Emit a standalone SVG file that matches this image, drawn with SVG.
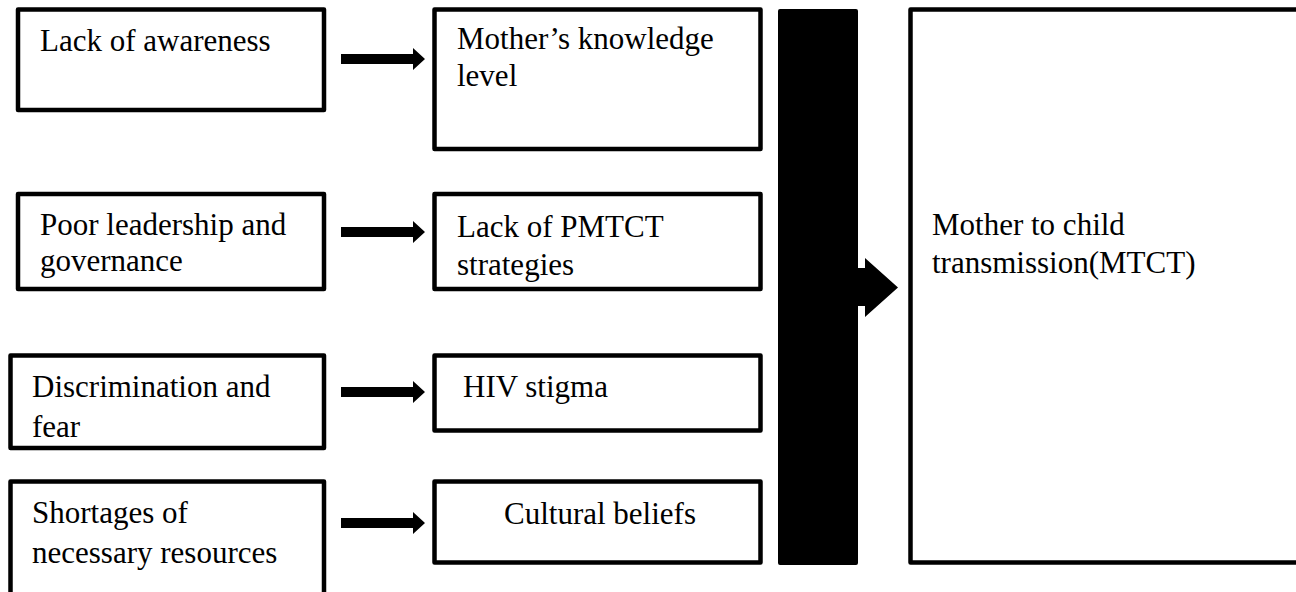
<svg xmlns="http://www.w3.org/2000/svg" width="1296" height="592" viewBox="0 0 1296 592">
  <style>
    .box { fill: #fff; stroke: #000; stroke-width: 4.5; stroke-linejoin: round; }
    .t { font-family: "Liberation Serif", "Times New Roman", serif; font-size: 31px; fill: #000; }
    .arr { fill: #000; stroke: none; }
  </style>
  <rect width="1296" height="592" fill="#fff"/>
  <g id="lack-awareness">
    <rect class="box" x="18" y="9.5" width="306" height="100.5"/>
    <text class="t" x="40" y="51">Lack of awareness</text>
  </g>
  <g id="mothers-knowledge">
    <rect class="box" x="434.5" y="9.5" width="326" height="139.5"/>
    <text class="t" x="457" y="49">Mother’s knowledge</text>
    <text class="t" x="457" y="86">level</text>
  </g>
  <g id="poor-leadership">
    <rect class="box" x="18" y="194" width="306" height="95"/>
    <text class="t" x="40" y="235">Poor leadership and</text>
    <text class="t" x="40" y="271">governance</text>
  </g>
  <g id="lack-pmtct">
    <rect class="box" x="434.5" y="194" width="326" height="95"/>
    <text class="t" x="457" y="237">Lack of PMTCT</text>
    <text class="t" x="457" y="275">strategies</text>
  </g>
  <g id="discrimination">
    <rect class="box" x="10.5" y="355.5" width="313.5" height="92.5"/>
    <text class="t" x="32" y="397">Discrimination and</text>
    <text class="t" x="32" y="437">fear</text>
  </g>
  <g id="hiv-stigma">
    <rect class="box" x="434.5" y="355.5" width="326" height="75"/>
    <text class="t" x="463" y="397">HIV stigma</text>
  </g>
  <g id="shortages">
    <rect class="box" x="10.5" y="481.5" width="313.5" height="130"/>
    <text class="t" x="32" y="523">Shortages of</text>
    <text class="t" x="32" y="563">necessary resources</text>
  </g>
  <g id="cultural-beliefs">
    <rect class="box" x="434.5" y="481.5" width="326" height="81"/>
    <text class="t" x="600" y="524" text-anchor="middle">Cultural beliefs</text>
  </g>
  <g id="mtct">
    <rect class="box" x="910.5" y="9.5" width="400" height="553"/>
    <text class="t" x="932" y="235">Mother to child</text>
    <text class="t" x="932" y="273">transmission(MTCT)</text>
  </g>
  <g id="connectors">
    <path class="arr" d="M341,54 H413 V48 L425,59 L413,70 V64 H341 Z"/>
    <path class="arr" d="M341,227 H413 V221 L425,232 L413,243 V237 H341 Z"/>
    <path class="arr" d="M341,387 H413 V381 L425,392 L413,403 V397 H341 Z"/>
    <path class="arr" d="M341,518 H413 V512 L425,523 L413,534 V528 H341 Z"/>
    <path class="arr" d="M780,9 H856 Q858,9 858,11 V268 H865 V258 L898,287.5 L865,317 V306 H858 V563 Q858,565 856,565 H780 Q778,565 778,563 V11 Q778,9 780,9 Z"/>
  </g>
</svg>
